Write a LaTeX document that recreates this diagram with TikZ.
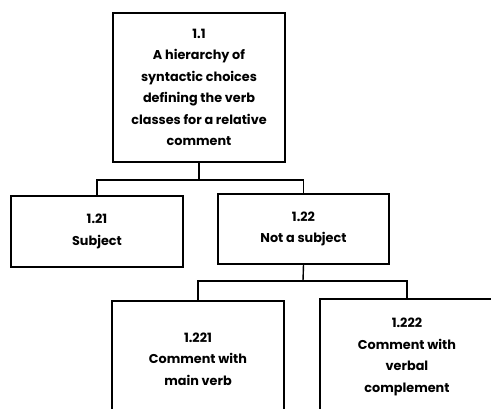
\documentclass[tikz,border=0pt]{standalone}
\usepackage{fontspec}
\setmainfont{Poppins}
\begin{document}
\begin{tikzpicture}[x=1pt,y=-1pt,
  box/.style={draw, line width=1.5pt, align=center, inner sep=0pt,
    font=\bfseries\fontsize{12.8}{21.5}\selectfont},
  link/.style={line width=1.4pt}]
\useasboundingbox (0,0) rectangle (491,409);
\clip (0,0) rectangle (491,409);
\fill[white] (0,0) rectangle (491,409);

% root of the hierarchy
\node[box, minimum width=172pt, minimum height=149pt] (top) at (199,87.5)
  {1.1\\A hierarchy of\\syntactic choices\\defining the verb\\classes for a relative\\comment};

% second level
\node[box, minimum width=172pt, minimum height=71pt] (b21) at (97,231.5)
  {1.21\\Subject};
\node[box, minimum width=171pt, minimum height=70pt] (b22) at (303.5,229)
  {1.22\\Not a subject};

% third level (boxes run past the lower and right margins)
\node[box, minimum width=172pt, minimum height=116pt] (b221) at (198,359)
  {1.221\\Comment with\\main verb};
\node[box, minimum width=174pt, minimum height=116pt] (b222) at (407,357)
  {1.222\\Comment with\\verbal\\complement};

% connectors
\coordinate (j1) at (199,180);
\coordinate (j2) at (303,281);
\draw[link] (top.south) -- (j1);
\draw[link] (b21.north) |- (j1) -| (b22.north);
\draw[link] (b22.south) -- (j2);
\draw[link] (b221.north) |- (j2) -| (b222.north);
\end{tikzpicture}
\end{document}
